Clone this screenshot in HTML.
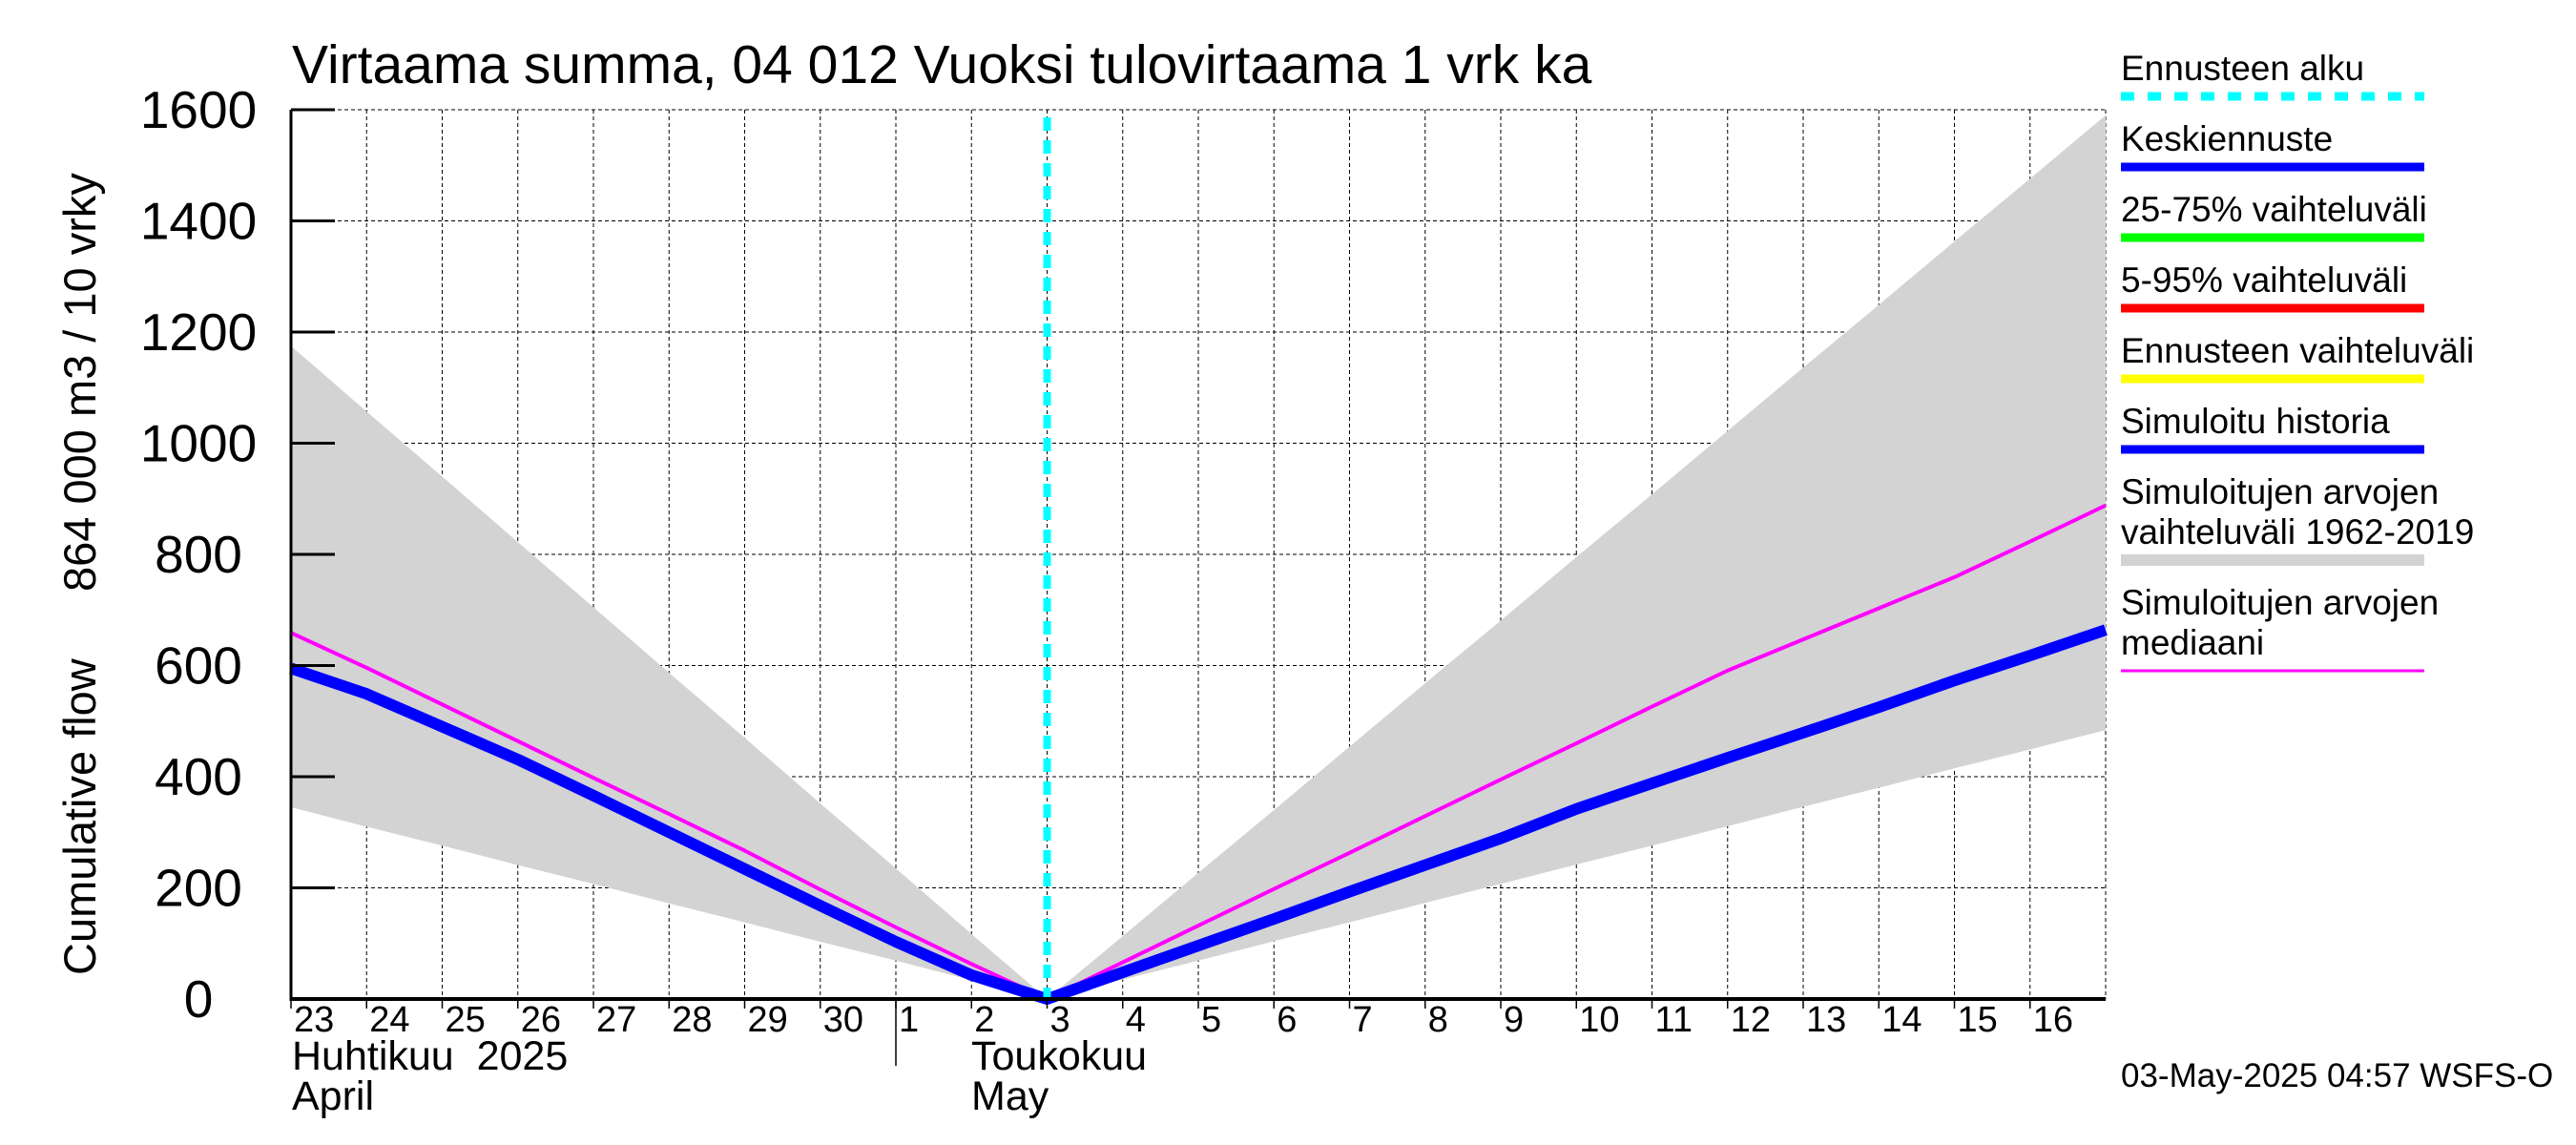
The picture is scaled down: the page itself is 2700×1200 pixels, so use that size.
<!DOCTYPE html>
<html><head><meta charset="utf-8"><style>
html,body{margin:0;padding:0;background:#fff}
svg{display:block;font-family:"Liberation Sans",sans-serif}
</style></head><body>
<svg id="chart" width="2700" height="1200" viewBox="0 0 2700 1200" xmlns="http://www.w3.org/2000/svg">
<text x="306" y="87" font-size="57">Virtaama summa, 04 012 Vuoksi tulovirtaama 1 vrk ka</text>
<g id="grid"></g>
<g id="bands"></g>
<g id="lines"></g>
<g id="axes"></g>
<text transform="translate(100,1022) rotate(-90)" font-size="47">Cumulative flow</text>
<text transform="translate(100,620) rotate(-90)" font-size="47">864 000 m3 / 10 vrky</text>
<text x="306" y="1121" font-size="43" xml:space="preserve">Huhtikuu  2025</text>
<text x="306" y="1163" font-size="43">April</text>
<text x="1018" y="1121" font-size="43">Toukokuu</text>
<text x="1018" y="1163" font-size="43">May</text>
<line x1="939" y1="1047" x2="939" y2="1117" stroke="#000" stroke-width="1.5"/>
<g font-size="37">
<text x="2223" y="84">Ennusteen alku</text>
<line x1="2223" y1="101" x2="2541" y2="101" stroke="#00ffff" stroke-width="9" stroke-dasharray="14,14"/>
<text x="2223" y="158">Keskiennuste</text>
<line x1="2223" y1="175" x2="2541" y2="175" stroke="#0000ff" stroke-width="9"/>
<text x="2223" y="232">25-75% vaihteluväli</text>
<line x1="2223" y1="249" x2="2541" y2="249" stroke="#00ff00" stroke-width="9"/>
<text x="2223" y="306">5-95% vaihteluväli</text>
<line x1="2223" y1="323" x2="2541" y2="323" stroke="#ff0000" stroke-width="9"/>
<text x="2223" y="380">Ennusteen vaihteluväli</text>
<line x1="2223" y1="397" x2="2541" y2="397" stroke="#ffff00" stroke-width="9"/>
<text x="2223" y="454">Simuloitu historia</text>
<line x1="2223" y1="471" x2="2541" y2="471" stroke="#0000ff" stroke-width="9"/>
<text x="2223" y="528">Simuloitujen arvojen</text>
<text x="2223" y="570">vaihteluväli 1962-2019</text>
<line x1="2223" y1="587" x2="2541" y2="587" stroke="#d3d3d3" stroke-width="12"/>
<text x="2223" y="644">Simuloitujen arvojen</text>
<text x="2223" y="686">mediaani</text>
<line x1="2223" y1="703" x2="2541" y2="703" stroke="#ff00ff" stroke-width="3"/>
</g>
<text x="2223" y="1139" font-size="35">03-May-2025 04:57 WSFS-O</text>
</svg>
<script>
const dayLabels = ["23","24","25","26","27","28","29","30","1","2","3","4","5","6","7","8","9","10","11","12","13","14","15","16"];
const yTicks = [0,200,400,600,800,1000,1200,1400,1600];
const forecastStartIndex = 10;
const rangeUpper = [1175,1057,940,822,705,587,470,352,235,117,0,113,227,340,454,568,681,795,908,1022,1136,1249,1363,1476,1590];
const rangeLower = [345,310,276,241,207,172,138,103,69,34,0,35,69,104,138,173,207,242,276,311,346,380,415,449,484];
const median = [659,596,530,464,398,333,267,197,129,63,0,66,132,198,263,329,395,460,526,591,647,703,759,823,888];
const forecast = [595,549,490,431,366,300,234,168,103,43,0,48,96,144,193,241,289,342,388,434,479,525,573,618,664];

const NS="http://www.w3.org/2000/svg";
const X0=305, X1=2207, Y0=1047, Y1=115, NDAYS=24, YMAX=1600;
function xs(i){return X0+(X1-X0)*i/NDAYS;}
function ys(v){return Y0-(Y0-Y1)*v/YMAX;}
function mk(tag,attrs,parent){const e=document.createElementNS(NS,tag);for(const k in attrs)e.setAttribute(k,attrs[k]);parent.appendChild(e);return e;}
const grid=document.getElementById('grid'),bands=document.getElementById('bands'),lines=document.getElementById('lines'),axes=document.getElementById('axes');

let pts=[];
for(let i=0;i<rangeUpper.length;i++)pts.push(xs(i)+','+ys(rangeUpper[i]));
for(let i=rangeLower.length-1;i>=0;i--)pts.push(xs(i)+','+ys(rangeLower[i]));
const band=mk('polygon',{points:pts.join(' '),fill:'#d3d3d3'},bands);



for(let i=1;i<=NDAYS;i++){
  const g=mk('line',{x1:xs(i),y1:Y1,x2:xs(i),y2:Y0,stroke:'#000','stroke-width':1,'stroke-dasharray':'4,3'},grid);
  
  
}
for(const v of yTicks){ if(v===0)continue;
  const g=mk('line',{x1:X0,y1:ys(v),x2:X1,y2:ys(v),stroke:'#000','stroke-width':1,'stroke-dasharray':'4,3'},grid);
  
  
}

function poly(arr,color,w,name){
  const p=arr.map((v,i)=>xs(i)+','+ys(v)).join(' ');
  const e=mk('polyline',{points:p,fill:'none',stroke:color,'stroke-width':w,'stroke-linejoin':'round'},lines);
  
  
}
poly(median,'#ff00ff',4,'median-line');
poly(forecast,'#0000ff',12,'forecast-line');

const fs=mk('line',{x1:xs(forecastStartIndex),y1:Y1+8,x2:xs(forecastStartIndex),y2:Y0,stroke:'#00ffff','stroke-width':8,'stroke-dasharray':'14,10'},lines);



const ya=mk('line',{x1:X0,y1:Y1,x2:X0,y2:Y0+2,stroke:'#000','stroke-width':3},axes);


const xa=mk('line',{x1:X0,y1:Y0,x2:X1,y2:Y0,stroke:'#000','stroke-width':4},axes);


for(const v of yTicks){
  const t=mk('line',{x1:X0,y1:ys(v),x2:X0+46,y2:ys(v),stroke:'#000','stroke-width':3},axes);
  
  
  const l=mk('text',{x:208,y:ys(v)+19,'font-size':55,'text-anchor':'middle'},axes);
  l.textContent=v;
  
  
}
for(let i=0;i<dayLabels.length;i++){
  const t=mk('line',{x1:xs(i),y1:Y0,x2:xs(i),y2:Y0+10,stroke:'#000','stroke-width':1.5},axes);
  
  
  const l=mk('text',{x:xs(i)+3,y:1081,'font-size':38},axes);
  l.textContent=dayLabels[i];
  
  
}
</script>
</body></html>
